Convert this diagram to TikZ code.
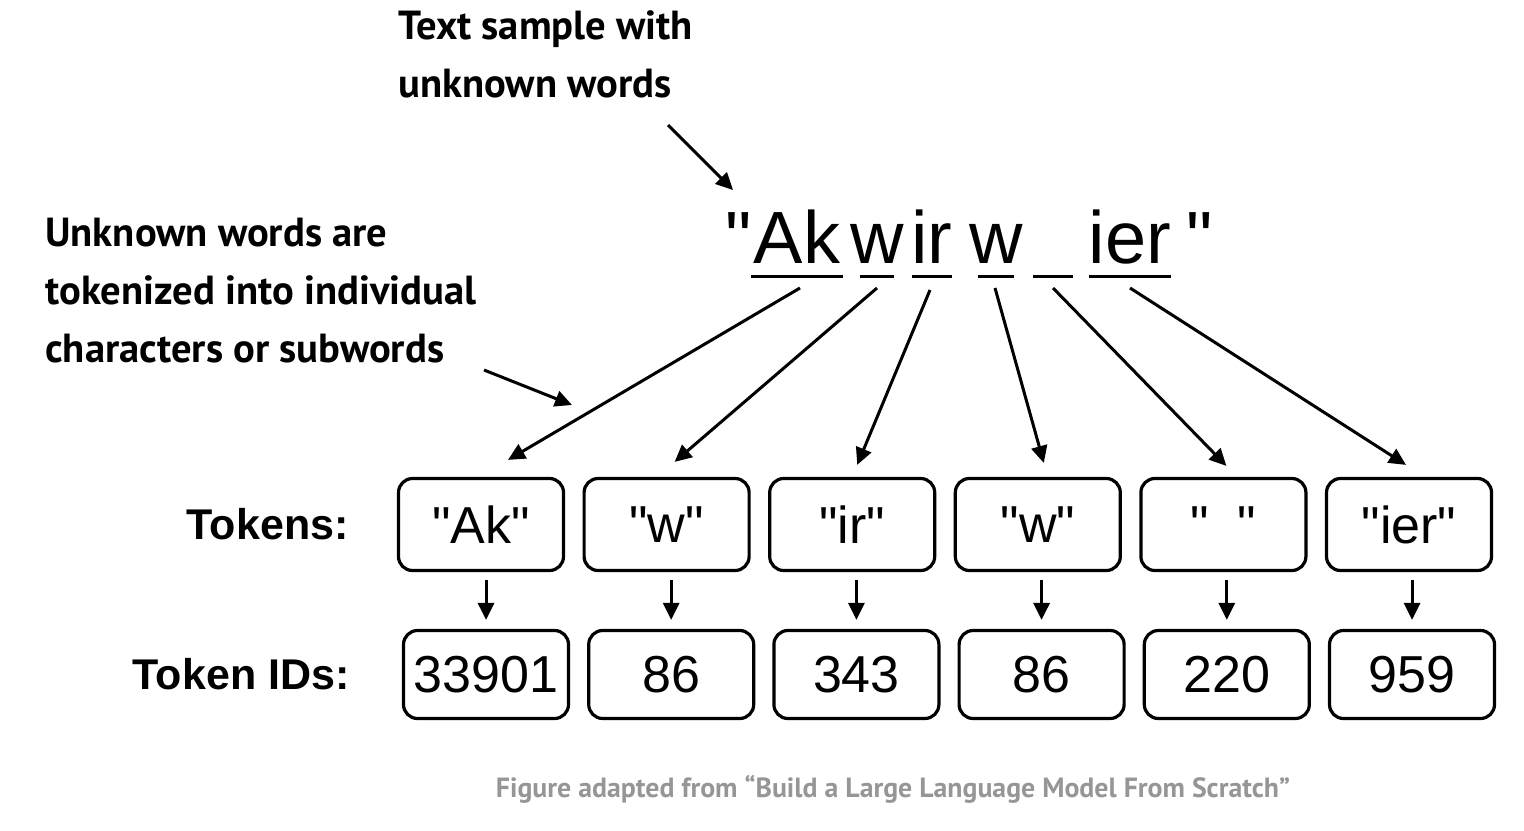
\documentclass[tikz,border=0pt]{standalone}
\usepackage{fontspec}
\setmainfont{Liberation Sans}[Ligatures=TeXOff]
\newfontfamily\notefont{PT Sans}
\usetikzlibrary{arrows.meta,positioning}
\definecolor{capgray}{RGB}{150,150,150}
\newcommand{\qt}{\char34\relax}

\begin{document}
\begin{tikzpicture}[x=0.5pt, y=-0.5pt,
	 arr/.style={-{Triangle[length=8.5pt,width=8pt]}, line width=1.5pt},
	 note/.style={font=\notefont\bfseries\fontsize{20.3}{29}\selectfont, align=left, inner sep=0pt, anchor=north west},
	 piece/.style={font=\fontsize{37}{37}\selectfont, inner sep=0pt, text height=27pt, text depth=6pt, anchor=south},
	 tokbox/.style={draw, line width=1.6pt, rounded corners=7pt, minimum width=82.5pt, minimum height=46pt, font=\fontsize{26}{26}\selectfont},
	 idbox/.style={tokbox, minimum height=44pt},
	 rowlabel/.style={font=\bfseries\fontsize{21.5}{21.5}\selectfont, inner sep=0pt}]
	    \useasboundingbox (0,0) rectangle (1524,830);
	    % notes
	    \node[note] (sample) at (398,10) {Text sample with\\unknown words};
	    \node[note] (unk) at (45,218) {Unknown words are\\tokenized into individual\\characters or subwords};
	    \coordinate (samplefrom) at (668,125);
	    \coordinate (wordtip) at (733,190);
	    \coordinate (unkfrom) at (484,370);
	    \coordinate (unktip) at (572,405);
	    \draw[arr] (samplefrom) -- (wordtip);
	    \draw[arr] (unkfrom) -- (unktip);
	    % the word, split in pieces
	    \node[piece] (ql) at (739,276) {\qt};
	    \node[piece, minimum width=45.5pt] (p1) at (797,276) {\makebox[0pt]{Ak}};
	    \node[piece, minimum width=17pt] (p2) at (877,276) {\makebox[0pt]{w}};
	    \node[piece, minimum width=20pt] (p3) at (932,276) {\makebox[0pt]{ir}};
	    \node[piece, minimum width=17.5pt] (p4) at (996,276) {\makebox[0pt]{w}};
	    \node[piece, minimum width=20pt] (p5) at (1053,276) {};
	    \node[piece, minimum width=40.5pt] (p6) at (1130,276) {\makebox[0pt]{ier}};
	    \node[piece] (qr) at (1200,276) {\qt};
	    \foreach \p in {p1,p2,p3,p4,p5,p6}
	        \draw[line width=1.5pt] (\p.south west) -- (\p.south east);
	    % tokens
	    \node[tokbox] (t1) at (481,524.5) {\qt Ak\qt};
	    \node[tokbox, right=8.7pt of t1] (t2) {\qt w\qt};
	    \node[tokbox, right=8.7pt of t2] (t3) {\qt ir\qt};
	    \node[tokbox, right=8.7pt of t3] (t4) {\qt w\qt};
	    \node[tokbox, right=8.7pt of t4] (t5) {\qt\ \ \qt};
	    \node[tokbox, right=8.7pt of t5] (t6) {\qt ier\qt};
	    \node[rowlabel, left=24pt of t1] (toklab) {Tokens:};
	    % token ids
	    \node[idbox] (i1) at (486,674.5) {33901};
	    \node[idbox, right=8.5pt of i1] (i2) {86};
	    \node[idbox, right=8.5pt of i2] (i3) {343};
	    \node[idbox, right=8.5pt of i3] (i4) {86};
	    \node[idbox, right=8.5pt of i4] (i5) {220};
	    \node[idbox, right=8.5pt of i5] (i6) {959};
	    \node[rowlabel, left=26pt of i1] (idlab) {Token IDs:};
	    % pieces to tokens
	    \draw[arr] ([shift={(1.5pt,-6pt)}]p1.south) -- ([shift={(13.5pt,8.5pt)}]t1.north);
	    \draw[arr] ([yshift=-6pt]p2.south) -- ([shift={(4pt,7.5pt)}]t2.north);
	    \draw[arr] ([shift={(-1pt,-7pt)}]p3.south) -- ([shift={(2.5pt,6pt)}]t3.north);
	    \draw[arr] ([shift={(-0.5pt,-6pt)}]p4.south) -- ([shift={(3pt,7pt)}]t4.north);
	    \draw[arr] ([yshift=-6pt]p5.south) -- ([shift={(1.5pt,5.5pt)}]t5.north);
	    \draw[arr] ([yshift=-6pt]p6.south) -- ([shift={(-1.5pt,6pt)}]t6.north);
	    % tokens to ids
	    \foreach \i in {1,...,6}
	        \draw[arr, shorten <=4pt, shorten >=4.5pt] (i\i.north |- t\i.south) -- (i\i.north);
	    \node[font=\notefont\bfseries\fontsize{13.9}{13.9}\selectfont, text=capgray, anchor=base] (credit) at (893,797) {Figure adapted from “Build a Large Language Model From Scratch”};
	 \end{tikzpicture}
\end{document}
